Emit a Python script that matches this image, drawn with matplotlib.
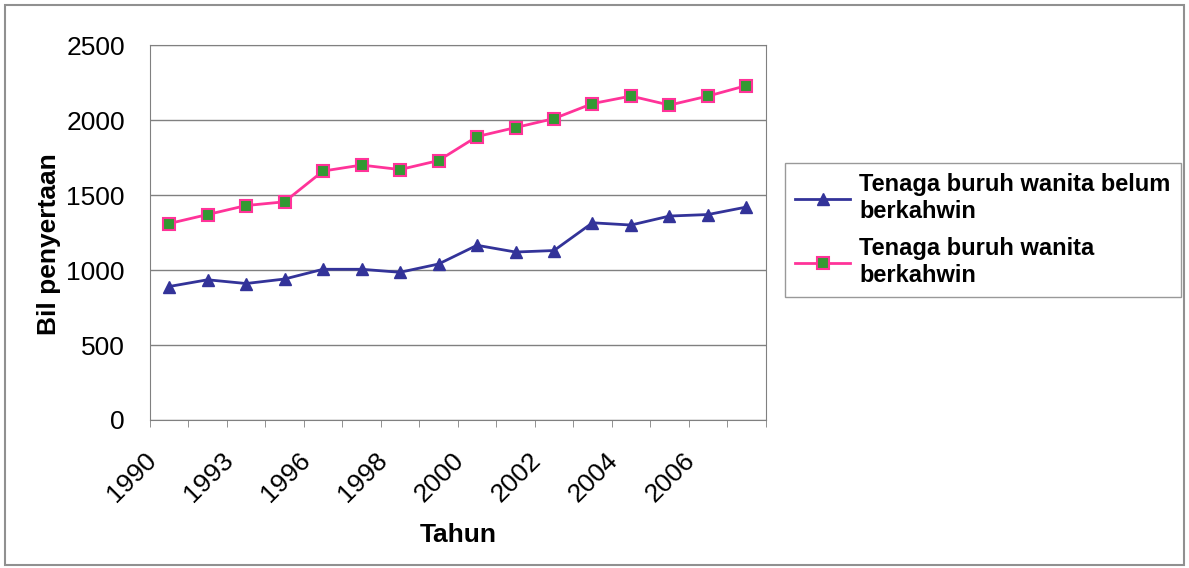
import numpy as np
import matplotlib.pyplot as plt
import matplotlib.transforms as mtransforms
from matplotlib.patches import Rectangle

plt.rcParams['font.family'] = ['Liberation Sans', 'DejaVu Sans']

# Data
years = ['1990', '1992', '1993', '1995', '1996', '1997', '1998', '1999',
         '2000', '2001', '2002', '2003', '2004', '2005', '2006', '2007']
belum_kahwin = [890, 935, 910, 940, 1005, 1005, 985, 1040,
                1165, 1120, 1130, 1315, 1300, 1360, 1370, 1420]
berkahwin = [1310, 1370, 1430, 1455, 1660, 1700, 1670, 1730,
             1890, 1950, 2010, 2110, 2160, 2100, 2160, 2230]
label_belum = 'Tenaga buruh wanita belum\nberkahwin'
label_kahwin = 'Tenaga buruh wanita\nberkahwin'
yticks = [0, 500, 1000, 1500, 2000, 2500]

fig = plt.figure(figsize=(11.89, 5.68), dpi=100)
ax = fig.add_axes([0.126, 0.2606, 0.518, 0.66])

x = np.arange(len(years))
ax.plot(x, belum_kahwin, color='#333399', lw=2, marker='^', ms=9,
        mfc='#333399', mec='#333399', label=label_belum, zorder=3)
ax.plot(x, berkahwin, color='#ff3399', lw=2, marker='s', ms=8,
        mfc='#339933', mec='#ff3399', mew=1.5, label=label_kahwin, zorder=3)

ax.set_xlim(-0.5, len(years) - 0.5)
ax.set_ylim(0, 2500)
ax.set_yticks(yticks)
ax.yaxis.grid(True, color='#808080', lw=1)
ax.set_axisbelow(True)
ax.tick_params(axis='y', length=0, labelsize=19, pad=18)

# Excel style: tick marks between categories, labels on every other category
ax.set_xticks(x[::2])
ax.set_xticklabels(years[::2], rotation=45, ha='right', va='top')
ax.set_xticks(np.arange(-0.5, len(years)), minor=True)
ax.tick_params(axis='x', which='major', length=0, labelsize=19, pad=20)
ax.tick_params(axis='x', which='minor', length=5, color='#808080')
shift = mtransforms.ScaledTranslation(-8 / 100, 0, fig.dpi_scale_trans)
for lab in ax.get_xticklabels():
    lab.set_transform(lab.get_transform() + shift)

for s in ax.spines.values():
    s.set_color('#808080')

ax.set_xlabel('Tahun', fontsize=19, fontweight='bold', labelpad=12)
ax.set_ylabel('Bil penyertaan', fontsize=19, fontweight='bold', labelpad=4)
ax.yaxis.label.set_y(0.47)

leg = ax.legend(loc='center left', bbox_to_anchor=(0.660, 0.595),
                bbox_transform=fig.transFigure, frameon=True,
                prop={'size': 17, 'weight': 'bold'},
                fancybox=False, edgecolor='#808080', handlelength=2.3,
                handletextpad=0.4, labelspacing=0.6, borderpad=0.45,
                borderaxespad=0)
leg.get_frame().set_linewidth(1)

fig.patches.append(Rectangle((0.004, 0.006), 0.992, 0.986, transform=fig.transFigure,
                             fill=False, edgecolor='#909090', lw=1.5))

fig.savefig('out.png', dpi=100)
